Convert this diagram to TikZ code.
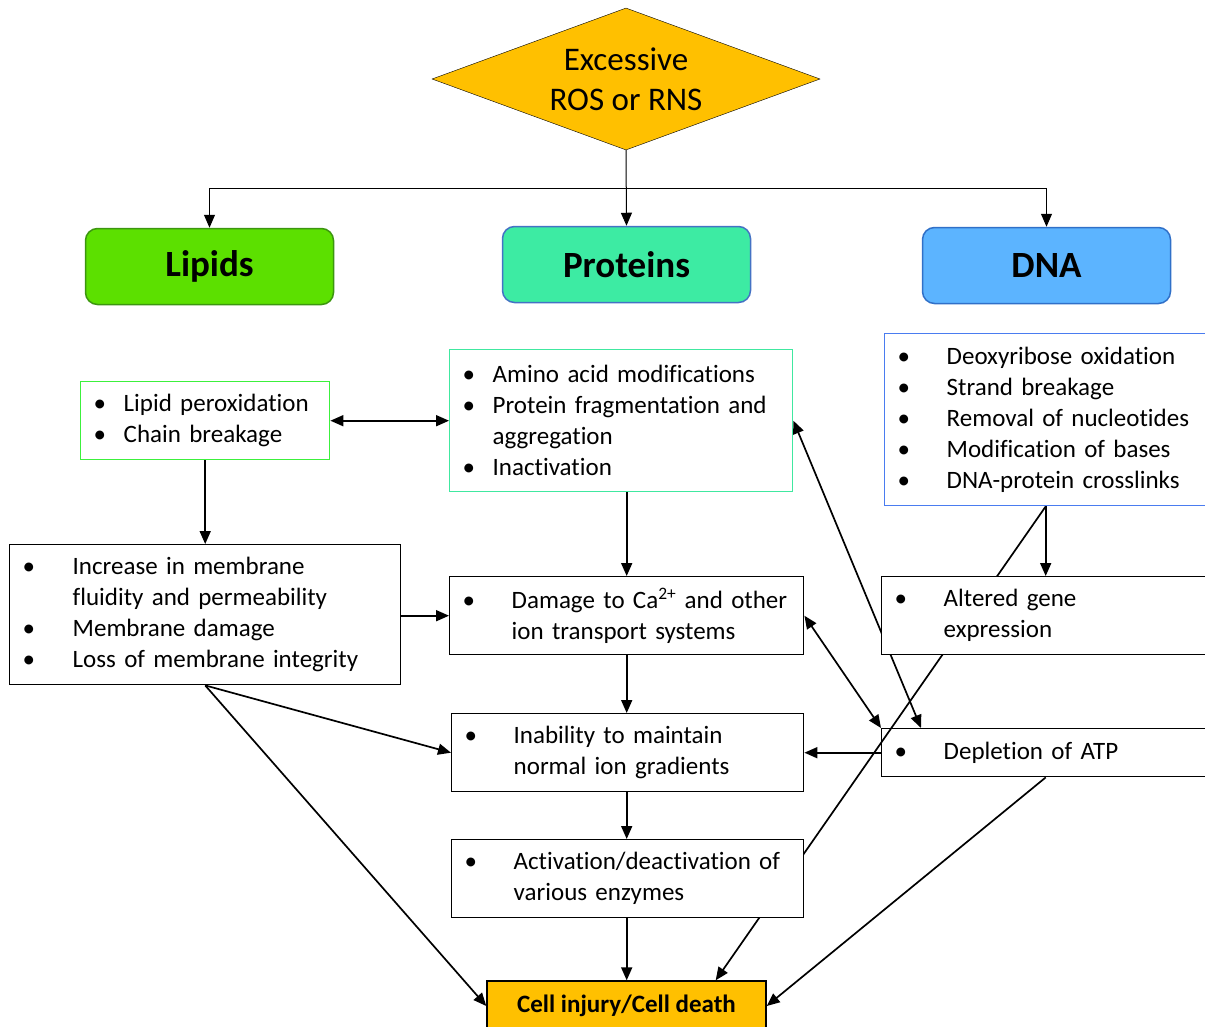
\documentclass[tikz,border=0pt]{standalone}
\usepackage{fontspec}
\setmainfont{Carlito}[Ligatures=NoCommon]
\usetikzlibrary{shapes.geometric, arrows.meta, backgrounds}

\definecolor{rosfill}{HTML}{FFC000}
\definecolor{lipidfill}{HTML}{5CE000}
\definecolor{lipidline}{HTML}{3C960F}
\definecolor{protfill}{HTML}{3DEBA3}
\definecolor{protline}{HTML}{4472C4}
\definecolor{dnafill}{HTML}{5CB4FF}
\definecolor{dnaline}{HTML}{3070C8}
\definecolor{lipidbox}{HTML}{3CF03C}
\definecolor{protbox}{HTML}{40E8A0}
\definecolor{dnabox}{HTML}{4A7CF0}

\newcommand{\bullit}[1][44pt]{\makebox[#1][l]{\hspace*{-5pt}\textbullet}}
\newcommand{\indt}[1][44pt]{\hspace*{#1}}

\begin{document}
\begin{tikzpicture}[x=1pt, y=-1pt, font=\fontsize{25}{31}\selectfont,
  >={Triangle[length=13pt,width=11pt]}]
 % --- スタイルを定義 ---
 \tikzset{
    trigger/.style={
        diamond,
        draw,
        thin,
        fill=rosfill,
        aspect=2.7,
        minimum width=388pt,
        minimum height=142pt,
        inner sep=0pt,
        align=center,
        font=\fontsize{33}{40}\selectfont
    },
    target/.style={
        rectangle,
        rounded corners=12pt,
        draw,
        line width=1.5pt,
        minimum width=248pt,
        minimum height=76pt,
        font=\fontsize{37}{44}\selectfont\bfseries
    },
    listbox/.style={
        rectangle,
        draw,
        line width=1.4pt,
        fill=white,
        anchor=north west,
        align=left,
        inner xsep=18pt,
        inner ysep=0pt
    },
    outcome/.style={
        rectangle,
        draw,
        line width=1.4pt,
        fill=rosfill,
        minimum width=279pt,
        minimum height=50pt,
        font=\fontsize{25}{31}\selectfont\bfseries
    },
    link/.style={->, line width=1.7pt},
    feed/.style={->, line width=1pt}
 }

 \useasboundingbox (0,0) rectangle (1205,1026);
 \clip (0,0) rectangle (1205,1026);

 % --- 起点 ---
 \node[trigger] (ros) at (626,79) {Excessive\\ROS or RNS};

 % --- 標的 ---
 \node[target, fill=lipidfill, draw=lipidline] (lipids) at (209.5,266.5) {Lipids};
 \node[target, fill=protfill, draw=protline] (proteins) at (626.5,264.5) {Proteins};
 \node[target, fill=dnafill, draw=dnaline] (dna) at (1046.5,265.5) {DNA};

 % --- 損傷の内容 ---
 \node[listbox, draw=lipidbox, text width=213pt, minimum height=78pt] (perox) at (80,381)
   {\bullit[25pt]Lipid peroxidation\\\bullit[25pt]Chain breakage};
 \node[listbox, draw=protbox, text width=307pt, minimum height=142pt] (protmods) at (449,349)
   {\bullit[25pt]Amino acid modifications\\\bullit[25pt]Protein fragmentation and\\
    \indt[25pt]aggregation\\\bullit[25pt]Inactivation};
 \node[listbox, draw=dnabox, text width=292pt, minimum height=172pt] (dnalist) at (884,333)
   {\bullit Deoxyribose oxidation\\\bullit Strand breakage\\\bullit Removal of nucleotides\\
    \bullit Modification of bases\\\bullit DNA-protein crosslinks};

 % --- 細胞への影響 ---
 \node[listbox, text width=355pt, minimum height=140pt] (membrane) at (9,544)
   {\bullit[45pt]Increase in membrane\\\indt[45pt]fluidity and permeability\\
    \bullit[45pt]Membrane damage\\\bullit[45pt]Loss of membrane integrity};
 \node[listbox, text width=318pt, minimum height=78pt] (damage) at (449,576)
   {\mbox{\bullit Damage to Ca\textsuperscript{2+} and other}\\\indt ion transport systems};
 \node[listbox, text width=292pt, minimum height=78pt] (altered) at (881,576)
   {\bullit Altered gene\\\indt expression};
 \node[listbox, text width=316pt, minimum height=78pt] (inability) at (451,713)
   {\bullit Inability to maintain\\\indt normal ion gradients};
 \node[listbox, fill=none, text width=292pt, minimum height=48pt] (depletion) at (881,728)
   {\bullit Depletion of ATP};
 \node[listbox, text width=316pt, minimum height=78pt] (activation) at (451,839)
   {\mbox{\bullit Activation/deactivation of}\\\indt various enzymes};

 % --- 結果 ---
 \node[outcome] (death) at (626.5,1006) {Cell injury/Cell death};

 % --- 矢印 ---
 \coordinate (split) at (626,188);
 \draw[feed] (ros.south) -- (proteins.north);
 \draw[feed] (split) -| (lipids.north);
 \draw[feed] (split) -| (dna.north);

 \draw[link, <->] (perox.east) -- (protmods.west);
 \draw[link] (perox.south) -- (membrane.north);
 \draw[link] (protmods.south -| damage.north) -- (damage.north);
 \draw[link] (dnalist.south -| altered.north) -- (altered.north);
 \draw[link] (membrane.east |- damage.west) -- (damage.west);
 \draw[link] (membrane.south) -- (inability.west);
 \draw[link] (membrane.south) -- (death.west);
 \draw[link] (damage.south) -- (damage.south |- inability.north);
 \draw[link] (inability.south -| damage.south) -- (damage.south |- activation.north);
 \draw[link] (activation.south -| damage.south) -- (damage.south |- death.north);
 \draw[link] (depletion.west) -- (inability.east);
 \draw[link, <->] (damage.east) -- (depletion.north west);
 \draw[link] (depletion.south) -- (death.east);

 % 箱の後ろを通る線
 \begin{pgfonlayer}{background}
  \draw[link, <->] (protmods.east) -- ([xshift=40pt]depletion.north west);
  \draw[link] (dnalist.south -| altered.north) -- ([xshift=-51pt]death.north east);
 \end{pgfonlayer}
\end{tikzpicture}
\end{document}
